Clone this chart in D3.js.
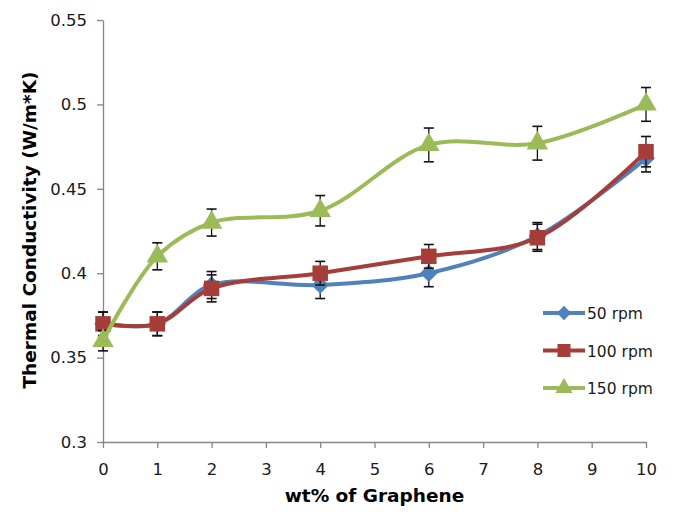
<!DOCTYPE html>
<html>
<head>
<meta charset="utf-8">
<script src="https://cdn.jsdelivr.net/npm/d3@7"></script>
<style>
  body { margin: 0; background: #fff; }
  text { font-family: "DejaVu Sans", Verdana, sans-serif; }
</style>
</head>
<body>
<svg id="chart"></svg>
<script>
var xValues = [0, 1, 2, 4, 6, 8, 10];
var rpm50 = [0.370, 0.370, 0.393, 0.393, 0.400, 0.422, 0.468];
var rpm50Err = [0.007, 0.007, 0.008, 0.008, 0.008, 0.008, 0.008];
var rpm100 = [0.370, 0.370, 0.391, 0.400, 0.410, 0.421, 0.472];
var rpm100Err = [0.007, 0.007, 0.008, 0.007, 0.007, 0.008, 0.009];
var rpm150 = [0.360, 0.410, 0.430, 0.437, 0.476, 0.477, 0.500];
var rpm150Err = [0.006, 0.008, 0.008, 0.009, 0.010, 0.010, 0.010];
var seriesNames = ["50 rpm", "100 rpm", "150 rpm"];
var xTicks = [0, 1, 2, 3, 4, 5, 6, 7, 8, 9, 10];
var yTicks = [0.3, 0.35, 0.4, 0.45, 0.5, 0.55];

var width = 673;
var height = 514;
var margin = {"top": 20, "right": 27, "bottom": 72, "left": 103};

var colors = ["#4F81BD", "#A53D39", "#9BBB59"];
var series = [
    {name: seriesNames[0], vals: rpm50, err: rpm50Err, color: colors[0], shape: d3.symbolDiamond2},
    {name: seriesNames[1], vals: rpm100, err: rpm100Err, color: colors[1], shape: d3.symbolSquare},
    {name: seriesNames[2], vals: rpm150, err: rpm150Err, color: colors[2], shape: d3.symbolTriangle}
];

var svg = d3.select("svg#chart")
    .attr("width", width)
    .attr("height", height);

var x = d3.scaleLinear().domain([0, 10]).range([margin.left, width - margin.right]);
var y = d3.scaleLinear().domain([0.3, 0.55]).range([height - margin.bottom, margin.top]);

var fmt = function(d) { return d3.format("")(+d.toFixed(2)); };

var yAxis = svg.append("g")
    .attr("transform", "translate(" + margin.left + ",0)")
    .call(d3.axisLeft(y).tickValues(yTicks).tickSize(6).tickSizeOuter(0).tickPadding(10).tickFormat(fmt));

var xAxis = svg.append("g")
    .attr("transform", "translate(0," + (height - margin.bottom) + ")")
    .call(d3.axisBottom(x).tickValues(xTicks).tickSize(6).tickSizeOuter(0).tickPadding(15));

[xAxis, yAxis].forEach(function(a) {
    a.selectAll("path, line").attr("stroke", "#868686").attr("stroke-width", 1.3);
    a.selectAll("text").style("font-size", "16.5px").attr("fill", "#1a1a1a");
});

var line = d3.line()
    .x(function(d, i) { return x(xValues[i]); })
    .y(function(d) { return y(d); })
    .curve(d3.curveCatmullRom.alpha(0.5));

series.forEach(function(s) {
    var g = svg.append("g");

    // error bars
    s.vals.forEach(function(v, i) {
        var cx = x(xValues[i]);
        var top = y(v + s.err[i]), bot = y(v - s.err[i]);
        g.append("line").attr("x1", cx).attr("x2", cx).attr("y1", top).attr("y2", bot)
            .attr("stroke", "#111").attr("stroke-width", 1.3);
        [top, bot].forEach(function(yy) {
            g.append("line").attr("x1", cx - 5).attr("x2", cx + 5).attr("y1", yy).attr("y2", yy)
                .attr("stroke", "#111").attr("stroke-width", 1.6);
        });
    });

    g.append("path")
        .datum(s.vals)
        .attr("fill", "none")
        .attr("stroke", s.color)
        .attr("stroke-width", 4)
        .attr("d", line);

    g.selectAll(".pt")
        .data(s.vals)
        .enter().append("path")
        .attr("transform", function(d, i) { return "translate(" + x(xValues[i]) + "," + y(d) + ")"; })
        .attr("d", d3.symbol().type(s.shape).size(s.shape === d3.symbolSquare ? 240 : 200))
        .attr("fill", s.color);
});

// legend
var legend = svg.append("g");
series.forEach(function(s, i) {
    var ly = 313 + i * 37.5;
    legend.append("line").attr("x1", 543).attr("x2", 585).attr("y1", ly).attr("y2", ly)
        .attr("stroke", s.color).attr("stroke-width", 4);
    legend.append("path")
        .attr("transform", "translate(564," + ly + ")")
        .attr("d", d3.symbol().type(s.shape).size(s.shape === d3.symbolSquare ? 170 : 130))
        .attr("fill", s.color);
    legend.append("text").attr("x", 587).attr("y", ly + 6)
        .style("font-size", "15.5px").attr("fill", "#1a1a1a")
        .text(s.name);
});

// axis titles
svg.append("text")
    .attr("x", (margin.left + width - margin.right) / 2)
    .attr("y", 502)
    .attr("text-anchor", "middle")
    .style("font-size", "18.5px").style("font-weight", "bold")
    .text("wt% of Graphene");

svg.append("text")
    .attr("transform", "translate(36," + 230 + ") rotate(-90)")
    .attr("text-anchor", "middle")
    .style("font-size", "18.5px").style("font-weight", "bold")
    .text("Thermal Conductivity (W/m*K)");
</script>
</body>
</html>
